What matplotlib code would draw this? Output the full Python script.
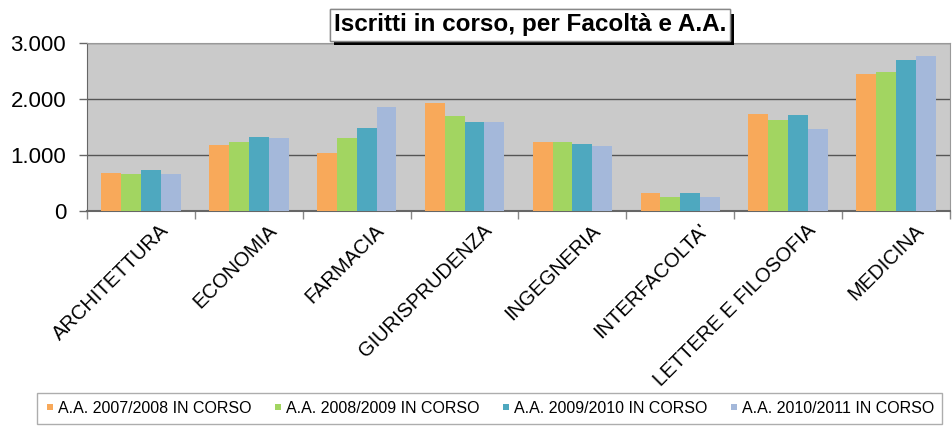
import matplotlib
matplotlib.use("Agg")
import matplotlib.pyplot as plt
import matplotlib.patheffects as pe
from matplotlib.lines import Line2D
from matplotlib.ticker import FuncFormatter, FixedLocator
from matplotlib.transforms import ScaledTranslation
import numpy as np

plt.rcParams['font.family'] = ['Liberation Sans', 'DejaVu Sans']

facolta = ["ARCHITETTURA", "ECONOMIA", "FARMACIA", "GIURISPRUDENZA",
           "INGEGNERIA", "INTERFACOLTA'", "LETTERE E FILOSOFIA", "MEDICINA"]
serie = ["A.A. 2007/2008 IN CORSO", "A.A. 2008/2009 IN CORSO",
         "A.A. 2009/2010 IN CORSO", "A.A. 2010/2011 IN CORSO"]
aa_2007 = [670, 1177, 1034, 1930, 1226, 330, 1733, 2450]
aa_2008 = [658, 1226, 1303, 1703, 1226, 245, 1625, 2486]
aa_2009 = [735, 1321, 1482, 1595, 1190, 330, 1715, 2688]
aa_2010 = [663, 1303, 1858, 1590, 1160, 258, 1459, 2772]
colori = ["#F8A95A", "#A2D561", "#4EA8BF", "#A4B8DA"]

valori = [aa_2007, aa_2008, aa_2009, aa_2010]

fig = plt.figure(figsize=(9.53, 4.26), dpi=100)
ax = fig.add_axes([87 / 953, 1 - 211 / 426, 863 / 953, 168 / 426])
ax.set_facecolor("#CACACA")

x = np.arange(len(facolta))
w = 0.184
for i, (v, c) in enumerate(zip(valori, colori)):
    ax.bar(x + (i - 1.5) * w, v, w, color=c, linewidth=0, zorder=3)

ax.set_xlim(-0.5, len(facolta) - 0.5)
ax.set_ylim(0, 3000)
ax.set_yticks([0, 1000, 2000, 3000])
ax.yaxis.set_major_formatter(FuncFormatter(lambda v, p: f"{int(v):,}".replace(",", ".")))
ax.grid(axis="y", color="#555555", linewidth=1, zorder=1)
ax.tick_params(axis="y", labelsize=16, length=6, width=1, color="#666666", pad=9)

ax.set_xticks(x)
ax.set_xticklabels(facolta, rotation=45, ha="right", va="top",
                   rotation_mode="anchor", fontsize=14.5)
ax.xaxis.set_minor_locator(FixedLocator(np.arange(-0.5, len(facolta), 1)))
ax.tick_params(axis="x", which="major", length=0, pad=7)
ax.tick_params(axis="x", which="minor", length=6, width=1, color="#888888")
for lab in ax.get_xticklabels():
    lab.set_transform(lab.get_transform() + ScaledTranslation(0.18, 0, fig.dpi_scale_trans))

for s in ["top", "right"]:
    ax.spines[s].set_color("#999999")
ax.spines["left"].set_color("#666666")
ax.spines["bottom"].set_color("#666666")
ax.spines["bottom"].set_linewidth(1.5)

t = fig.text(530 / 953, 1 - 25 / 426, "Iscritti in corso, per Facoltà e A.A.",
             ha="center", va="center", fontsize=17.5, fontweight="bold",
             bbox=dict(boxstyle="square,pad=0.17", fc="white", ec="#888888", lw=1))
t.get_bbox_patch().set_path_effects([
    pe.withSimplePatchShadow(offset=(3, -3), shadow_rgbFace="black", alpha=1),
    pe.Normal()])

handles = [Line2D([], [], linestyle="none", marker="s", markersize=5,
                  markerfacecolor=c, markeredgewidth=0) for c in colori]
leg = fig.legend(handles, serie, loc="center", ncol=4, mode="expand",
                 bbox_to_anchor=(37 / 953, 1 - 425 / 426, 905 / 953, 33 / 426),
                 fontsize=11.5, handlelength=0.6, handletextpad=0.2,
                 fancybox=False, frameon=True, borderaxespad=0, borderpad=0.5)
leg.get_frame().set_edgecolor("#999999")
leg.get_frame().set_linewidth(1)

fig.savefig("out.png", dpi=100)
